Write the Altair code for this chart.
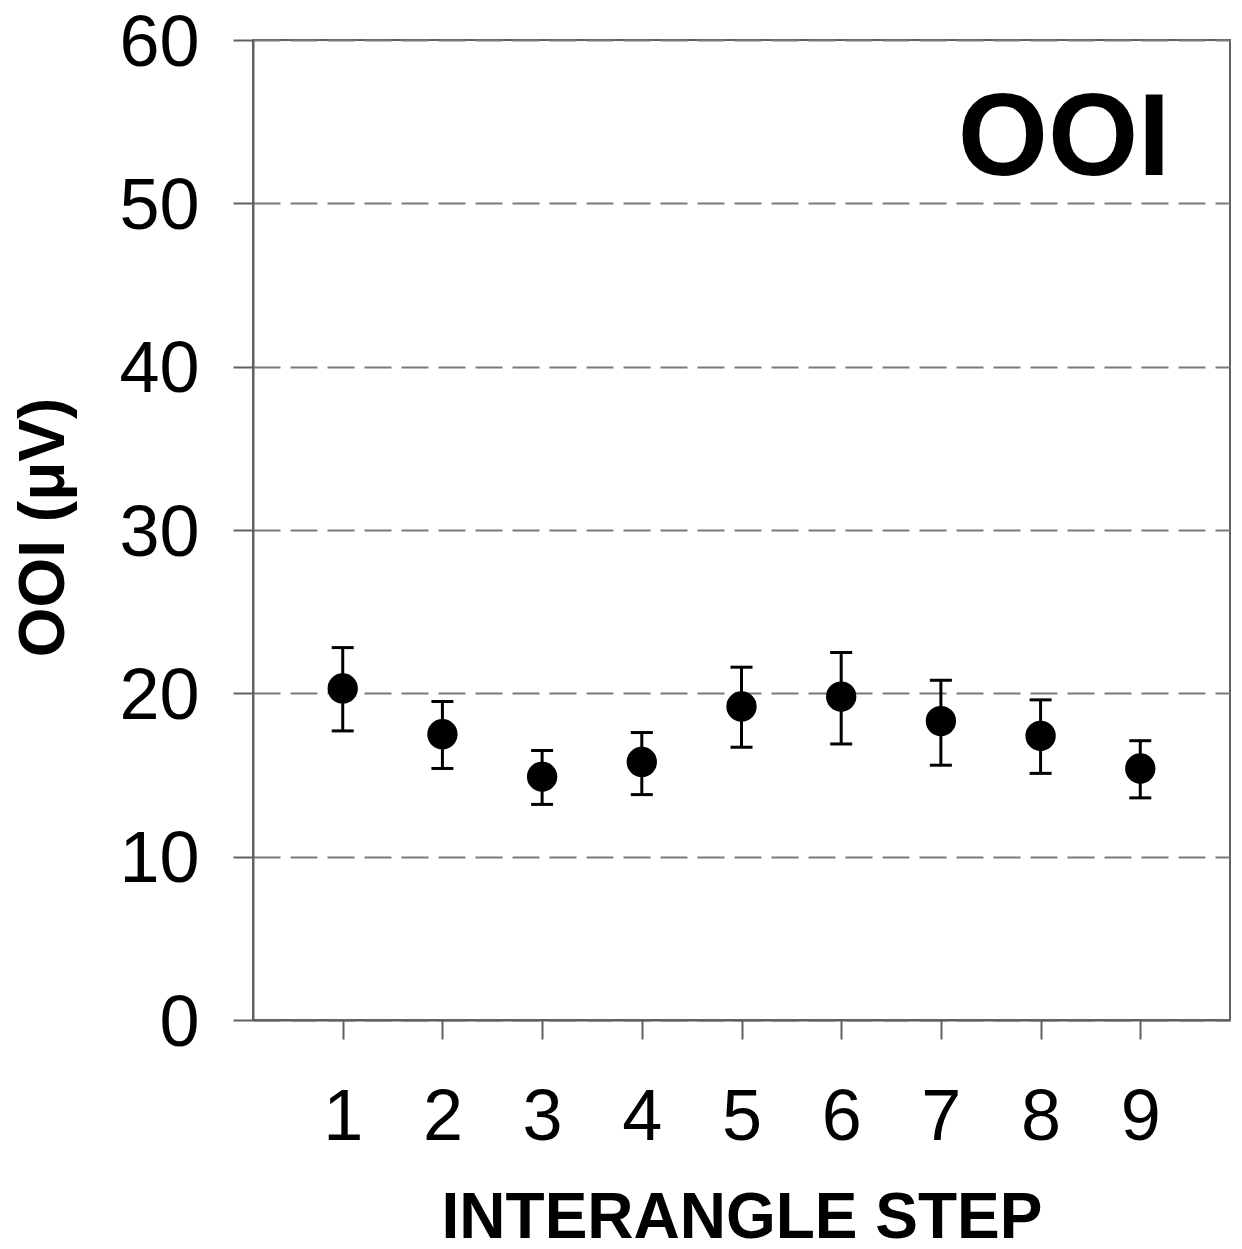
import altair as alt
import pandas as pd

# ---- data ----
steps = [1, 2, 3, 4, 5, 6, 7, 8, 9]
means = [20.3, 17.5, 14.9, 15.8, 19.2, 19.8, 18.3, 17.4, 15.4]
upper = [22.8, 19.5, 16.5, 17.6, 21.6, 22.5, 20.8, 19.6, 17.1]
lower = [17.7, 15.4, 13.2, 13.8, 16.7, 16.9, 15.6, 15.1, 13.6]
y_ticks = [0, 10, 20, 30, 40, 50, 60]
panel_label = ["OOI"]
x_title = "INTERANGLE STEP"
y_title = "OOI (μV)"

df = pd.DataFrame({"step": steps, "mean": means, "upper": upper, "lower": lower})

FONT = "Liberation Sans"
FRAME = "#606060"

x_scale = alt.Scale(domain=[0.1, 9.9], nice=False, zero=False)
y_scale = alt.Scale(domain=[0, 60], nice=False, zero=True)

x_axis = alt.Axis(
    values=steps, format="d", grid=False, tickSize=19, labelPadding=43, labelFontSize=72,
    labelFlush=False, labelOverlap=False,
    titleFontSize=64, titleFontWeight="bold", titleX=488.5, titleY=217,
    titleAlign="center", titleBaseline="alphabetic",
)
y_axis = alt.Axis(
    values=y_ticks, format="d", grid=True, tickSize=20, labelPadding=34, labelFontSize=72,
    labelFlush=False, labelOverlap=False, labelOffset=3,
    titleFontSize=64, titleFontWeight="bold", titleAngle=270,
    titleX=-190, titleY=487, titleAlign="center", titleBaseline="alphabetic",
)

base = alt.Chart(df)

rules = base.mark_rule(color="black", strokeWidth=3).encode(
    x=alt.X("step:Q", scale=x_scale, axis=x_axis, title=x_title),
    y=alt.Y("lower:Q", scale=y_scale, axis=y_axis, title=y_title),
    y2="upper:Q",
)
caps_top = base.mark_tick(orient="horizontal", size=22, thickness=3, color="black", opacity=1).encode(
    x=alt.X("step:Q", title=x_title),
    y=alt.Y("upper:Q", title=y_title),
)
caps_bot = base.mark_tick(orient="horizontal", size=22, thickness=3, color="black", opacity=1).encode(
    x=alt.X("step:Q", title=x_title),
    y=alt.Y("lower:Q", title=y_title),
)
points = base.mark_circle(size=920, color="black", opacity=1).encode(
    x=alt.X("step:Q", title=x_title),
    y=alt.Y("mean:Q", title=y_title),
)
label = alt.Chart(pd.DataFrame({"t": panel_label})).mark_text(
    font=FONT, fontSize=116, fontWeight="bold", color="black",
    align="center", baseline="alphabetic",
).encode(text="t:N", x=alt.value(811), y=alt.value(135))

chart = (
    alt.layer(rules, caps_top, caps_bot, points, label)
    .properties(
        width=977, height=980,
        autosize=alt.AutoSizeParams(type="none"),
        padding={"left": 245, "top": 32, "right": 4, "bottom": 221},
        background="white",
    )
    .configure_view(stroke=FRAME, strokeWidth=2)
    .configure_axis(
        domainColor=FRAME, domainWidth=2, tickColor=FRAME, tickWidth=2,
        labelFont=FONT, titleFont=FONT, labelColor="black", titleColor="black",
        gridColor="#7a7a7a", gridWidth=2, gridDash=[27, 10],
    )
)

chart.save("out.html", embed_options={"renderer": "svg", "actions": False})
